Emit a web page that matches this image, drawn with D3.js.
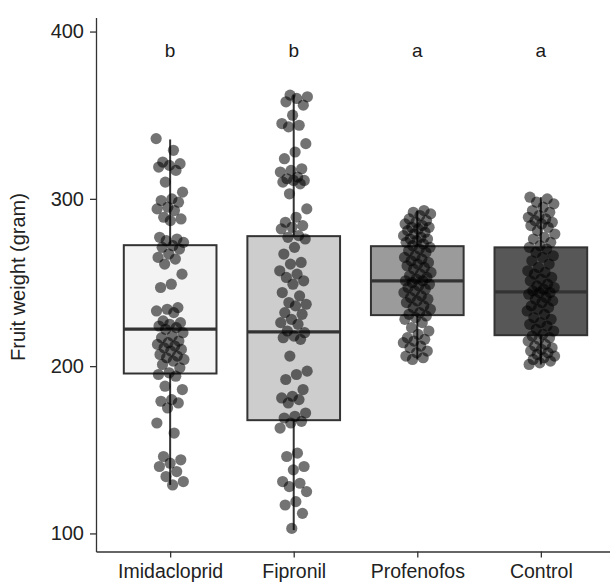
<!DOCTYPE html>
<html>
<head>
<meta charset="utf-8">
<script src="https://cdn.jsdelivr.net/npm/d3@7"></script>
<style>
  html, body { margin: 0; padding: 0; background: #fff; }
  svg { display: block; font-family: "Liberation Sans", Arial, sans-serif; }
</style>
</head>
<body>
<svg id="chart" width="610" height="583"></svg>
<script>
// ---------- data ----------
const categories = ["Imidacloprid", "Fipronil", "Profenofos", "Control"];
const groupLetters = ["b", "b", "a", "a"];
const yTicks = [100, 200, 300, 400];

// box statistics
const whiskerLow  = [129, 102, 204, 201];
const q1          = [195.6, 167.7, 230.5, 218.5];
const medians     = [222.1, 220.5, 251, 244.4];
const q3          = [272.3, 277.7, 271.7, 271];
const whiskerHigh = [335.5, 362, 293, 301];

// individual fruit weights (gram)
const imidacloprid = [336, 329, 322, 321, 320, 319, 317, 310, 304, 300, 299, 298, 295, 294, 293, 289, 288, 287,
  277, 276, 275, 274, 272, 271, 270, 267, 265, 264, 261, 255, 249, 247, 235, 234, 233, 232, 227, 226, 225, 224,
  223, 222, 220, 218, 217, 215, 214, 213, 212, 211, 210, 209, 207, 206, 205, 204, 203, 201, 199, 196, 195, 194,
  188, 186, 180, 179, 178, 175, 166, 160, 146, 144, 142, 140, 137, 134, 131, 129];
const fipronil = [362, 361, 360, 358, 356, 350, 345, 344, 343, 333, 328, 324, 318, 317, 316, 313, 312, 311, 311,
  310, 309, 303, 294, 289, 286, 284, 283, 282, 278, 277, 276, 271, 267, 262, 261, 257, 255, 253, 251, 249, 244,
  242, 238, 237, 236, 232, 231, 228, 226, 225, 221, 220, 218, 217, 216, 206, 197, 195, 192, 186, 182, 181, 180,
  178, 172, 170, 169, 167, 166, 163, 148, 146, 140, 138, 131, 130, 128, 125, 119, 117, 112, 103];
const profenofos = [293, 292, 291, 290, 288, 287, 286, 285, 284, 283, 283, 282, 281, 280, 279, 278, 277, 276, 276,
  275, 274, 273, 272, 271, 270, 269, 268, 266, 265, 264, 263, 262, 261, 260, 259, 258, 256, 255, 254, 253, 252,
  251, 251, 250, 249, 248, 247, 246, 245, 244, 242, 241, 240, 239, 238, 236, 235, 234, 232, 231, 230, 229, 228,
  226, 223, 221, 219, 217, 216, 215, 214, 212, 211, 209, 208, 206, 205, 204];
const control = [301, 300, 298, 297, 295, 293, 292, 290, 289, 288, 287, 286, 285, 284, 283, 281, 279, 277, 276,
  274, 272, 271, 270, 268, 266, 265, 263, 261, 259, 257, 256, 255, 253, 252, 251, 249, 248, 247, 246, 245, 244,
  244, 243, 241, 240, 239, 238, 236, 235, 234, 233, 231, 229, 228, 226, 225, 224, 222, 221, 219, 218, 217, 216,
  215, 213, 212, 211, 210, 209, 208, 207, 206, 205, 204, 203, 202, 201];
const seriesValues = [imidacloprid, fipronil, profenofos, control];

const fills = ["#f3f3f3", "#cdcdcd", "#9b9b9b", "#575757"];

// ---------- layout ----------
const svg = d3.select("#chart");
const axisLeftX = 96, axisBottomY = 551.5, axisTopY = 17.5, rightX = 615;

const x = d3.scalePoint().domain(categories).range([axisLeftX, rightX]).padding(0.6);
const step = x.step();
const boxW = step * 0.75;
const y = d3.scaleLinear().domain([89.2, 408.4]).range([axisBottomY, axisTopY]);

const ink = "#333333";

// boxes
const g = svg.append("g");
categories.forEach((c, i) => {
  const cx = x(c);
  g.append("line").attr("x1", cx).attr("x2", cx).attr("y1", y(whiskerHigh[i])).attr("y2", y(q3[i]))
    .attr("stroke", ink).attr("stroke-width", 2);
  g.append("line").attr("x1", cx).attr("x2", cx).attr("y1", y(q1[i])).attr("y2", y(whiskerLow[i]))
    .attr("stroke", ink).attr("stroke-width", 2);
  g.append("rect").attr("x", cx - boxW / 2).attr("width", boxW)
    .attr("y", y(q3[i])).attr("height", y(q1[i]) - y(q3[i]))
    .attr("fill", fills[i]).attr("stroke", ink).attr("stroke-width", 2);
  g.append("line").attr("x1", cx - boxW / 2).attr("x2", cx + boxW / 2)
    .attr("y1", y(medians[i])).attr("y2", y(medians[i]))
    .attr("stroke", ink).attr("stroke-width", 3.2);
});

// jittered points (deterministic low-discrepancy offset)
const jitterHalf = 14;
categories.forEach((c, i) => {
  const cx = x(c);
  seriesValues[i].forEach((v, j) => {
    const u = ((j * 0.6180339887 + i * 0.37) % 1) - 0.5;
    g.append("circle")
      .attr("cx", cx + u * 2 * jitterHalf)
      .attr("cy", y(v))
      .attr("r", 5.6)
      .attr("fill", "#000")
      .attr("fill-opacity", 0.55);
  });
});

// significance letters
categories.forEach((c, i) => {
  svg.append("text").attr("x", x(c)).attr("y", 57)
    .attr("text-anchor", "middle").attr("font-size", 19).attr("fill", "#1a1a1a")
    .text(groupLetters[i]);
});

// axes
const yAxis = d3.axisLeft(y).tickValues(yTicks).tickSize(6).tickSizeOuter(0).tickPadding(6);
const yG = svg.append("g").attr("transform", `translate(${axisLeftX},0)`).call(yAxis);
yG.select(".domain").attr("stroke", ink).attr("stroke-width", 1.3);
yG.selectAll(".tick line").attr("stroke", ink).attr("stroke-width", 1.3);
yG.selectAll(".tick text").attr("font-size", 20).attr("fill", "#222").attr("font-family", "Liberation Sans, Arial, sans-serif");

const xAxis = d3.axisBottom(x).tickSize(6).tickSizeOuter(0).tickPadding(7);
const xG = svg.append("g").attr("transform", `translate(0,${axisBottomY})`).call(xAxis);
xG.select(".domain").attr("stroke", ink).attr("stroke-width", 1.3);
xG.selectAll(".tick line").attr("stroke", ink).attr("stroke-width", 1.3);
xG.selectAll(".tick text").attr("font-size", 19.5).attr("fill", "#222").attr("font-family", "Liberation Sans, Arial, sans-serif");

// y title
svg.append("text")
  .attr("transform", `translate(25,277) rotate(-90)`)
  .attr("text-anchor", "middle").attr("font-size", 20).attr("fill", "#222")
  .text("Fruit weight (gram)");
</script>
</body>
</html>
